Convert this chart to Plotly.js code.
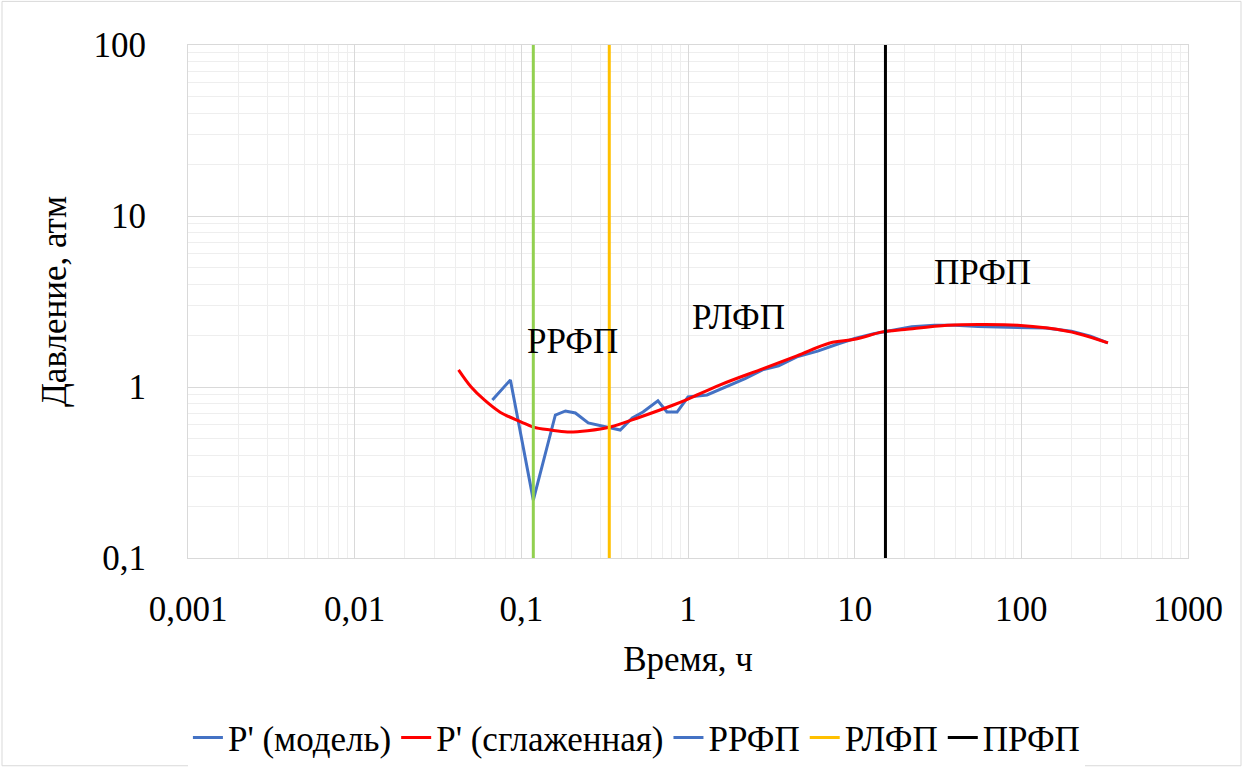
<!DOCTYPE html>
<html><head><meta charset="utf-8">
<script src="https://cdn.plot.ly/plotly-3.0.1.min.js"></script>
<style>body{margin:0;background:#fff}#chart{width:1243px;height:771px}</style>
</head><body><div id="chart"></div>
<script>
// Data
const modelTime = [0.067, 0.086, 0.118, 0.143, 0.16, 0.184, 0.211, 0.252, 0.328, 0.392, 0.463, 0.537, 0.66, 0.748, 0.86, 1.0, 1.3, 1.7, 2.2, 2.8, 3.5, 4.5, 6, 8, 10, 13, 17, 22, 30, 40, 55, 75, 100, 140, 200, 260, 330];
const modelP    = [0.84, 1.1, 0.218, 0.446, 0.686, 0.724, 0.705, 0.616, 0.583, 0.56, 0.659, 0.714, 0.83, 0.714, 0.714, 0.874, 0.898, 1.0, 1.12, 1.26, 1.33, 1.5, 1.62, 1.79, 1.92, 2.05, 2.15, 2.25, 2.3, 2.3, 2.26, 2.25, 2.24, 2.21, 2.12, 1.98, 1.81];
const smoothTime = [0.042, 0.05, 0.06, 0.075, 0.1, 0.118, 0.15, 0.189, 0.25, 0.342, 0.518, 0.817, 1.0, 1.56, 2.7, 4.5, 7.1, 10, 14.7, 20, 36, 60, 95, 144, 220, 331];
const smoothP    = [1.26, 1.0, 0.84, 0.71, 0.624, 0.583, 0.56, 0.546, 0.555, 0.583, 0.668, 0.785, 0.85, 1.03, 1.26, 1.52, 1.81, 1.9, 2.1, 2.17, 2.3, 2.32, 2.3, 2.21, 2.05, 1.81];
const rrfpTime = [0.118, 0.118];
const rlfpTime = [0.337, 0.337];
const prfpTime = [15.3, 15.3];
const vLineP = [0.1, 100];
const seriesNames = ["P' (модель)", "P' (сглаженная)", "РРФП", "РЛФП", "ПРФП"];
const tickVals = [0.001, 0.01, 0.1, 1, 10, 100, 1000];
const xTickText = ["0,001", "0,01", "0,1", "1", "10", "100", "1000"];
const yTickVals = [0.1, 1, 10, 100];
const yTickText = ["0,1", "1", "10", "100"];
const labels = [
  {text: "РРФП", x: 0.202, y: 1.85},
  {text: "РЛФП", x: 2.0, y: 2.56},
  {text: "ПРФП", x: 58.6, y: 4.7}
];

const FONT = "'Liberation Serif', 'DejaVu Serif', 'Times New Roman', serif";
const FS = 35;
const traces = [
  {x: modelTime, y: modelP, name: seriesNames[0], mode: 'lines', line: {color: '#4472C4', width: 3}},
  {x: smoothTime, y: smoothP, name: seriesNames[1], mode: 'lines', line: {color: '#FF0000', width: 3, shape: 'spline'}},
  {x: rrfpTime, y: vLineP, name: seriesNames[2], mode: 'lines', line: {color: '#92D050', width: 3}, showlegend: false, legendgroup: 'r'},
  {x: [null], y: [null], name: seriesNames[2], mode: 'lines', line: {color: '#4472C4', width: 3}, legendgroup: 'r'},
  {x: rlfpTime, y: vLineP, name: seriesNames[3], mode: 'lines', line: {color: '#FFC000', width: 3}},
  {x: prfpTime, y: vLineP, name: seriesNames[4], mode: 'lines', line: {color: '#000000', width: 3}}
];

const layout = {
  width: 1243, height: 771,
  margin: {l: 188, r: 55, t: 45, b: 213},
  paper_bgcolor: '#fff', plot_bgcolor: '#fff',
  font: {family: FONT, size: FS, color: '#000'},
  showlegend: true,
  legend: {orientation: 'h', xref: 'container', yref: 'container', x: 0.512, xanchor: 'center', y: 0.043, yanchor: 'middle',
           font: {family: FONT, size: FS, color: '#000'}, traceorder: 'normal', itemwidth: 30, tracegroupgap: 0},
  xaxis: {
    type: 'log', range: [-3, 3], tickvals: tickVals, ticktext: xTickText,
    showgrid: true, gridcolor: '#d9d9d9', gridwidth: 1,
    minor: {showgrid: true, gridcolor: '#eeeeee', dtick: 'D1'},
    showline: true, linecolor: '#d9d9d9', mirror: true, zeroline: false, ticks: '',
    ticklabelstandoff: 20, tickfont: {family: FONT, size: FS, color: '#000'},
    title: {text: 'Время, ч', font: {family: FONT, size: FS, color: '#000'}, standoff: 18}
  },
  yaxis: {
    type: 'log', range: [-1, 2], tickvals: yTickVals, ticktext: yTickText,
    showgrid: true, gridcolor: '#d9d9d9', gridwidth: 1,
    minor: {showgrid: true, gridcolor: '#eeeeee', dtick: 'D1'},
    showline: true, linecolor: '#d9d9d9', mirror: true, zeroline: false, ticks: '',
    ticklabelstandoff: 34, tickfont: {family: FONT, size: FS, color: '#000'},
    title: {text: 'Давление, атм', font: {family: FONT, size: FS, color: '#000'}, standoff: 16}
  },
  annotations: labels.map(l => ({
    text: l.text, x: Math.log10(l.x), y: Math.log10(l.y), xref: 'x', yref: 'y',
    showarrow: false, font: {family: FONT, size: FS, color: '#000'}
  })),
  shapes: [{type: 'rect', xref: 'paper', yref: 'paper', x0: -0.186, x1: 1.053, y0: -0.405, y1: 1.085,
    line: {color: '#d9d9d9', width: 1}}]
};
Plotly.newPlot('chart', traces, layout, {displayModeBar: false, staticPlot: true});
</script></body></html>
